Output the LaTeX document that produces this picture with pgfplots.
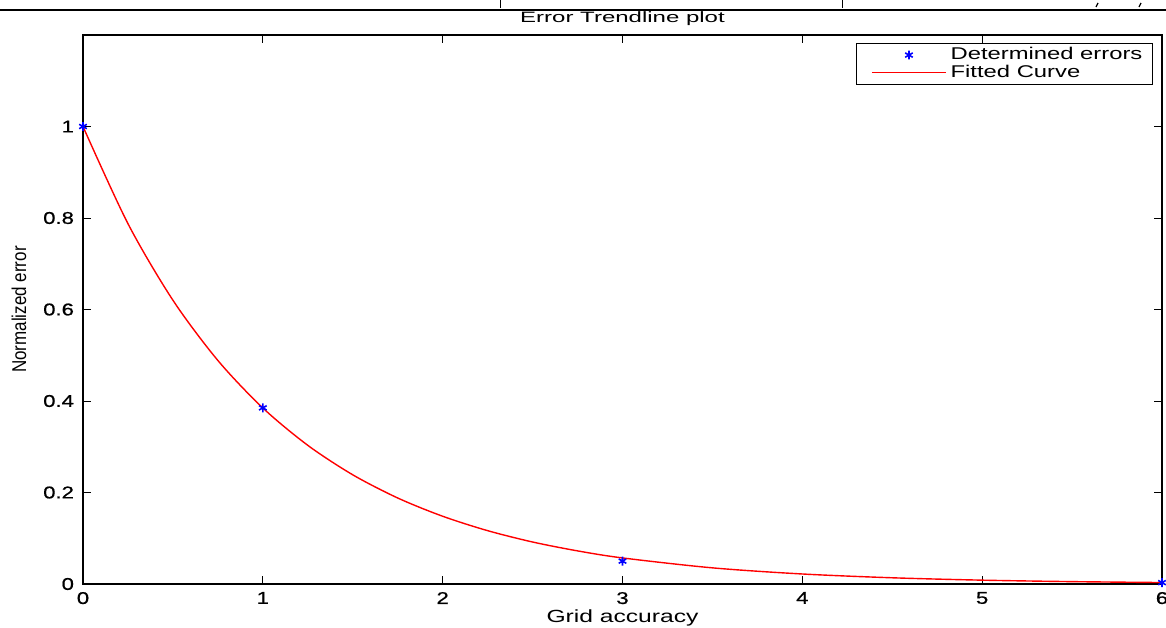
\documentclass[border=0pt]{standalone}
\usepackage{pgfplots}
\pgfplotsset{compat=1.18}
\usepackage{fontspec}
\setmainfont{Liberation Sans}
\newfontfamily\tickfont[FakeStretch=1.3,FakeBold=0.8]{Liberation Sans}
\newfontfamily\widefont[FakeStretch=1.4]{Liberation Sans}
\newfontfamily\titlefont[FakeStretch=1.6]{Liberation Sans}
\newfontfamily\narrowfont[FakeStretch=0.85]{Liberation Sans}
\begin{document}
\begin{tikzpicture}[x=0.5pt,y=0.5pt]
\useasboundingbox (0,0) rectangle (1166,627);
\draw[line width=1.2pt] (0,617) -- (1166,617);
\draw[line width=0.5pt] (500,627) -- (500,619);
\draw[line width=0.5pt] (842,627) -- (842,619);
\draw[line width=0.6pt] (1098,624) -- (1096,620);
\draw[line width=0.6pt] (1141,624) -- (1139,620);
\begin{axis}[
  at={(41.5pt,21.5pt)}, anchor=south west,
  scale only axis, width=539.5pt, height=274.5pt,
  xmin=0, xmax=6, ymin=0, ymax=1.2,
  xtick={0,1,2,3,4,5,6},
  ytick={0,0.2,0.4,0.6,0.8,1},
  yticklabels={0,0.2,0.4,0.6,0.8,1},
  tick align=inside, major tick length=4pt,
  tick style={black, line width=0.5pt},
  axis line style={line width=0.8pt},
  ticklabel style={font=\tickfont\fontsize{8.5}{9}\selectfont},
  xticklabel style={yshift=-0.5pt},
  yticklabel style={xshift=-1pt},
  /pgf/number format/assume math mode=true,
  xlabel={Grid accuracy}, ylabel={Normalized error},
  every axis x label/.style={at={(axis description cs:0.5,-0.0615)}, anchor=center,
    font=\widefont\fontsize{8.8}{9}\selectfont},
  every axis y label/.style={at={(axis description cs:-0.0593,0.5)}, anchor=center, rotate=90,
    font=\narrowfont\fontsize{10}{11}\selectfont},
  title={Error Trendline plot},
  every axis title/.style={at={(axis description cs:0.5,1.029)}, anchor=center,
    font=\titlefont\fontsize{7.5}{8}\selectfont},
  legend style={at={(0.9917,0.9854)}, anchor=north east, line width=0.6pt,
    font=\widefont\fontsize{8.5}{9}\selectfont, row sep=0.4pt, inner xsep=3pt, inner ysep=1.5pt,
    nodes={inner ysep=0.4pt},
    legend cell align=left},
  legend image code/.code={%
    \path (-4.5pt,0pt);
    \draw[mark repeat=2,mark phase=2] plot coordinates {(0pt,0pt) (18.5pt,0pt) (37pt,0pt)};},
  clip=false,
]
\addplot[only marks, mark=asterisk, mark size=2.2pt, blue, mark options={line width=0.8pt}] coordinates {
  (0,1) (1,0.385) (3,0.05) (6,0.003)
};
\addlegendentry{Determined errors}
\addplot[red, line width=0.7pt, smooth] coordinates {
  (0,1) (0.25,0.7876) (0.5,0.6203) (0.75,0.4886) (1,0.3848) (1.25,0.3031)
  (1.5,0.2387) (1.75,0.1880) (2,0.1481) (2.25,0.1166) (2.5,0.0918)
  (2.75,0.0724) (3,0.0570) (3.5,0.0353) (4,0.0219) (4.5,0.0136)
  (5,0.0084) (5.5,0.0052) (6,0.0032)
};
\addlegendentry{Fitted Curve}
\end{axis}
\end{tikzpicture}
\end{document}
